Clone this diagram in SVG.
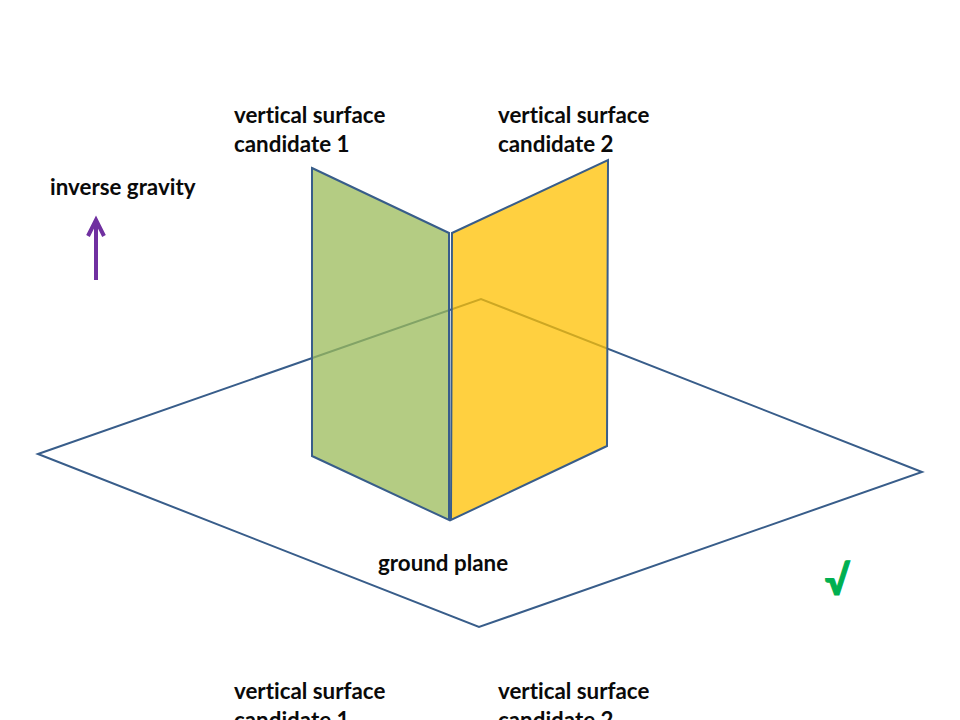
<svg xmlns="http://www.w3.org/2000/svg" width="960" height="720" viewBox="0 0 960 720">
<style>
.l{font-family:"Lato","Carlito","Liberation Sans",sans-serif;font-weight:700;font-size:22.35px;fill:#0a0a0a;font-variant-ligatures:none}
.s{stroke:#385d8a;stroke-width:2;stroke-linejoin:miter}
</style>
<defs>
<marker id="a" markerUnits="userSpaceOnUse" markerWidth="30" markerHeight="30" refX="20" refY="15" orient="auto" viewBox="0 0 30 30"><path d="M4 7 L20 15 L4 23" fill="none" stroke="#7030a0" stroke-width="4"/></marker>
</defs>
<rect width="960" height="720" fill="#fff"/>
<g id="ground-plane"><polygon class="s" points="38,454 481,299 922,472 479,627" fill="#fff"/></g>
<g id="candidate-1"><polygon class="s" points="312,168 449,233 449,520 312,456" fill="#9bbb59" fill-opacity=".75"/></g>
<g id="candidate-2"><polygon class="s" points="452,233 608,160 607,446 451,520" fill="#ffc000" fill-opacity=".75"/></g>
<g id="connectors"><line x1="96" y1="280" x2="96" y2="220" stroke="#7030a0" stroke-width="4" marker-end="url(#a)"/></g>
<g id="labels">
<text class="l" x="234" y="123">vertical surface</text>
<text class="l" x="234" y="152">candidate 1</text>
<text class="l" x="498" y="123">vertical surface</text>
<text class="l" x="498" y="152">candidate 2</text>
<text class="l" x="50" y="195">inverse gravity</text>
<text class="l" x="378" y="571">ground plane</text>
<text class="l" x="234" y="699">vertical surface</text>
<text class="l" x="234" y="728">candidate 1</text>
<text class="l" x="498" y="699">vertical surface</text>
<text class="l" x="498" y="728">candidate 2</text>
<text x="825" y="595" font-family="Lato,'Liberation Sans',sans-serif" font-weight="700" font-size="40" fill="#00b050" stroke="#00b050" stroke-width="1.2">√</text>
</g>
</svg>
